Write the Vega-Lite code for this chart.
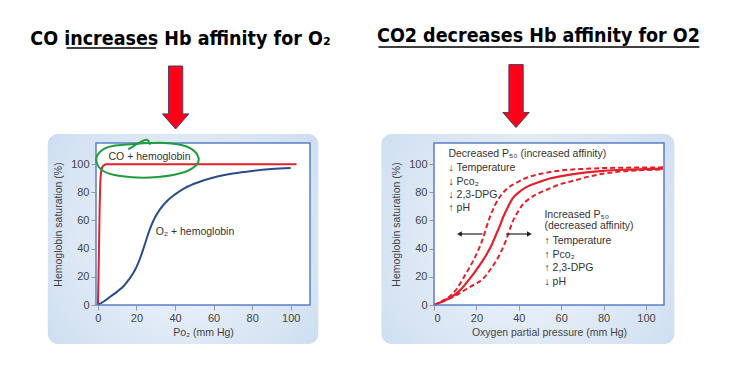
{
  "$schema": "https://vega.github.io/schema/vega-lite/v6.json",
  "autosize": {"type": "none"},
  "padding": {"left": 96, "top": 143, "right": 636, "bottom": 225},
  "background": "white",
  "bounds": "flush",
  "spacing": 124,
  "config": {
    "view": {"stroke": null},
    "axis": {"labelFont": "Liberation Sans", "labelFontSize": 11, "labelColor": "#444", "titleFont": "Liberation Sans", "titleFontSize": 10.5, "titleFontWeight": "normal", "titleColor": "#444", "tickColor": "#999", "tickSize": 5, "domain": false, "grid": false, "labelOverlap": false},
    "text": {"font": "Liberation Sans"}
  },
  "hconcat": [
    {
      "width": 214,
      "height": 162,
      "layer": [
        {
          "data": {"values": [{"x": -26, "x2": 114.3, "y": -27.7, "y2": 121.4}]},
          "mark": {"type": "rect", "cornerRadius": 10, "fill": {"gradient": "radial", "x1": 0.5, "y1": 0.5, "x2": 0.5, "y2": 0.5, "r1": 0, "r2": 0.75, "stops": [{"offset": 0, "color": "#f5f8fc"}, {"offset": 1, "color": "#c6d9ef"}]}},
          "encoding": {
            "x": {"field": "x", "type": "quantitative", "scale": {"domain": [-1, 110], "nice": false, "zero": false}, "axis": {"values": [0, 20, 40, 60, 80, 100], "tickCount": 12, "title": "Po₂ (mm Hg)", "titlePadding": 4, "zindex": 1, "grid": false, "domain": false, "labelOverlap": false}},
            "x2": {"field": "x2"},
            "y": {"field": "y", "type": "quantitative", "scale": {"domain": [0, 115], "nice": false, "zero": false}, "axis": {"values": [0, 20, 40, 60, 80, 100], "tickCount": 12, "title": "Hemoglobin saturation (%)", "titlePadding": 7, "zindex": 1, "grid": false, "domain": false, "labelOverlap": false}},
            "y2": {"field": "y2"}
          }
        },
        {
          "data": {"values": [{"x": -1, "x2": 110, "y": 0, "y2": 115}]},
          "mark": {"type": "rect", "fill": "white"},
          "encoding": {"x": {"field": "x", "type": "quantitative"}, "x2": {"field": "x2"}, "y": {"field": "y", "type": "quantitative"}, "y2": {"field": "y2"}}
        },
        {
          "data": {"values": [
            {"x": 0, "y": 0}, {"x": 0.3, "y": 20}, {"x": 0.6, "y": 45}, {"x": 0.9, "y": 70}, {"x": 1.2, "y": 86}, {"x": 1.6, "y": 94}, {"x": 2.2, "y": 97.7}, {"x": 3.2, "y": 99.3}, {"x": 4.5, "y": 99.9}, {"x": 6, "y": 100}, {"x": 103, "y": 100}
          ]},
          "mark": {"type": "line", "color": "#e5202b", "strokeWidth": 2, "interpolate": "monotone"},
          "encoding": {"x": {"field": "x", "type": "quantitative"}, "y": {"field": "y", "type": "quantitative"}}
        },
        {
          "data": {"values": [
            {"x": 0, "y": 0}, {"x": 3, "y": 2.5}, {"x": 6.5, "y": 6}, {"x": 10, "y": 9.5}, {"x": 13.4, "y": 13.5}, {"x": 16, "y": 18}, {"x": 18.5, "y": 23}, {"x": 21, "y": 30}, {"x": 23, "y": 37.5}, {"x": 25, "y": 46}, {"x": 27, "y": 54}, {"x": 29, "y": 60.5}, {"x": 32, "y": 67.5}, {"x": 36, "y": 74}, {"x": 40, "y": 78.5}, {"x": 45, "y": 83}, {"x": 52.8, "y": 87.5}, {"x": 60, "y": 90.5}, {"x": 70, "y": 93.3}, {"x": 80, "y": 95.2}, {"x": 90, "y": 96.5}, {"x": 100, "y": 97.3}
          ]},
          "mark": {"type": "line", "color": "#2b4c8c", "strokeWidth": 2, "interpolate": "monotone"},
          "encoding": {"x": {"field": "x", "type": "quantitative"}, "y": {"field": "y", "type": "quantitative"}}
        },
        {
          "data": {"values": [{"x": -1, "x2": 110, "y": 0, "y2": 115}]},
          "mark": {"type": "rect", "fill": null, "fillOpacity": 0, "stroke": "#5b7ec8", "strokeWidth": 1.5},
          "encoding": {"x": {"field": "x", "type": "quantitative"}, "x2": {"field": "x2"}, "y": {"field": "y", "type": "quantitative"}, "y2": {"field": "y2"}}
        },
        {
          "data": {"values": [{"x": 5.5, "y": 104.8, "t": "CO + hemoglobin"}, {"x": 30, "y": 51.6, "t": "O₂ + hemoglobin"}]},
          "mark": {"type": "text", "align": "left", "baseline": "middle", "fontSize": 10.5, "color": "#333"},
          "encoding": {"x": {"field": "x", "type": "quantitative"}, "y": {"field": "y", "type": "quantitative"}, "text": {"field": "t"}}
        },
        {
          "data": {"values": [
            {"i": 1, "x": -0.85, "y": 102.9}, {"i": 2, "x": 2.24, "y": 110}, {"i": 3, "x": 8.92, "y": 113.2}, {"i": 4, "x": 21.76, "y": 114.6}, {"i": 5, "x": 34.6, "y": 115}, {"i": 6, "x": 45.9, "y": 112.5}, {"i": 7, "x": 51.6, "y": 106.5}, {"i": 8, "x": 51.1, "y": 99.4}, {"i": 9, "x": 42.3, "y": 93.3}, {"i": 10, "x": 26.9, "y": 90.5}, {"i": 11, "x": 11.5, "y": 91.6}, {"i": 12, "x": 2.75, "y": 95.1}
          ]},
          "mark": {"type": "line", "color": "#1f9d3c", "strokeWidth": 2, "interpolate": "cardinal-closed"},
          "encoding": {"x": {"field": "x", "type": "quantitative"}, "y": {"field": "y", "type": "quantitative"}, "order": {"field": "i"}}
        },
        {
          "data": {"values": [{"i": 1, "x": 15.75, "y": 110.5}, {"i": 2, "x": 21.8, "y": 115.5}, {"i": 3, "x": 25.4, "y": 117.3}, {"i": 4, "x": 27.2, "y": 113.8}]},
          "mark": {"type": "line", "color": "#1f9d3c", "strokeWidth": 2, "interpolate": "cardinal"},
          "encoding": {"x": {"field": "x", "type": "quantitative"}, "y": {"field": "y", "type": "quantitative"}, "order": {"field": "i"}}
        },
        {
          "data": {"values": [{"x": 42.8, "y": 184.5, "t": "CO increases Hb affinity for O₂"}]},
          "mark": {"type": "text", "align": "center", "baseline": "alphabetic", "fontSize": 19.5, "fontWeight": "bold", "font": "DejaVu Sans Condensed, DejaVu Sans, sans-serif", "color": "black"},
          "encoding": {"x": {"field": "x", "type": "quantitative"}, "y": {"field": "y", "type": "quantitative"}, "text": {"field": "t"}}
        },
        {
          "data": {"values": [{"x": -16.3, "x2": 30.2, "y": 182.4}]},
          "mark": {"type": "rule", "color": "black", "strokeWidth": 1.5},
          "encoding": {"x": {"field": "x", "type": "quantitative"}, "x2": {"field": "x2"}, "y": {"field": "y", "type": "quantitative"}}
        },
        {
          "data": {"values": [{"x": 40.3, "y": 147.3}]},
          "mark": {"type": "point", "shape": "M-0.227,-1L0.227,-1L0.227,0.52L0.42,0.52L0,1L-0.42,0.52L-0.227,0.52Z", "size": 3969, "filled": true, "fill": "#ff0018", "fillOpacity": 1, "stroke": "#4b4060", "strokeWidth": 1, "opacity": 1},
          "encoding": {"x": {"field": "x", "type": "quantitative"}, "y": {"field": "y", "type": "quantitative"}}
        }
      ]
    },
    {
      "width": 230,
      "height": 162,
      "layer": [
        {
          "data": {"values": [{"x": -24.8, "x2": 113.4, "y": -27.7, "y2": 121.4}]},
          "mark": {"type": "rect", "cornerRadius": 10, "fill": {"gradient": "radial", "x1": 0.5, "y1": 0.5, "x2": 0.5, "y2": 0.5, "r1": 0, "r2": 0.75, "stops": [{"offset": 0, "color": "#f5f8fc"}, {"offset": 1, "color": "#c6d9ef"}]}},
          "encoding": {
            "x": {"field": "x", "type": "quantitative", "scale": {"domain": [0, 108.5], "nice": false, "zero": false}, "axis": {"values": [0, 20, 40, 60, 80, 100], "tickCount": 12, "title": "Oxygen partial pressure (mm Hg)", "titlePadding": 4, "zindex": 1, "grid": false, "domain": false, "labelOverlap": false}},
            "x2": {"field": "x2"},
            "y": {"field": "y", "type": "quantitative", "scale": {"domain": [0, 115], "nice": false, "zero": false}, "axis": {"values": [0, 20, 40, 60, 80, 100], "tickCount": 12, "title": "Hemoglobin saturation (%)", "titlePadding": 7, "zindex": 1, "grid": false, "domain": false, "labelOverlap": false}},
            "y2": {"field": "y2"}
          }
        },
        {
          "data": {"values": [{"x": 0, "x2": 108.5, "y": 0, "y2": 115}]},
          "mark": {"type": "rect", "fill": "white"},
          "encoding": {"x": {"field": "x", "type": "quantitative"}, "x2": {"field": "x2"}, "y": {"field": "y", "type": "quantitative"}, "y2": {"field": "y2"}}
        },
        {
          "data": {"values": [
            {"x": 0, "y": 0}, {"x": 4, "y": 2.5}, {"x": 8, "y": 5.5}, {"x": 12, "y": 10}, {"x": 16.5, "y": 18}, {"x": 20, "y": 25}, {"x": 24.4, "y": 35}, {"x": 27, "y": 42}, {"x": 29, "y": 49}, {"x": 31, "y": 56}, {"x": 32.5, "y": 62}, {"x": 35, "y": 70}, {"x": 37, "y": 75.5}, {"x": 40, "y": 80}, {"x": 43.3, "y": 83.5}, {"x": 50, "y": 87.5}, {"x": 55, "y": 90}, {"x": 60, "y": 91.5}, {"x": 70, "y": 93.8}, {"x": 80, "y": 95.2}, {"x": 90, "y": 96}, {"x": 100, "y": 96.5}, {"x": 108, "y": 96.8}
          ]},
          "mark": {"type": "line", "color": "#e5202b", "strokeWidth": 2.2, "interpolate": "monotone"},
          "encoding": {"x": {"field": "x", "type": "quantitative"}, "y": {"field": "y", "type": "quantitative"}}
        },
        {
          "data": {"values": [
            {"s": "a", "x": 0, "y": 0}, {"s": "a", "x": 4, "y": 3}, {"s": "a", "x": 8, "y": 7}, {"s": "a", "x": 11, "y": 12}, {"s": "a", "x": 13.4, "y": 18}, {"s": "a", "x": 16.5, "y": 26}, {"s": "a", "x": 19.7, "y": 35}, {"s": "a", "x": 22.8, "y": 46}, {"s": "a", "x": 26, "y": 61}, {"s": "a", "x": 28.5, "y": 70}, {"s": "a", "x": 30.7, "y": 76}, {"s": "a", "x": 34, "y": 82}, {"s": "a", "x": 38.6, "y": 86.5}, {"s": "a", "x": 44, "y": 90.5}, {"s": "a", "x": 50, "y": 93}, {"s": "a", "x": 60, "y": 95.5}, {"s": "a", "x": 70, "y": 96.6}, {"s": "a", "x": 80, "y": 97.2}, {"s": "a", "x": 90, "y": 97.5}, {"s": "a", "x": 108, "y": 97.7},
            {"s": "b", "x": 0, "y": 0}, {"s": "b", "x": 5, "y": 3}, {"s": "b", "x": 10, "y": 6.5}, {"s": "b", "x": 15, "y": 11}, {"s": "b", "x": 19, "y": 14.5}, {"s": "b", "x": 22.8, "y": 18.2}, {"s": "b", "x": 26.5, "y": 25}, {"s": "b", "x": 30.7, "y": 35}, {"s": "b", "x": 33.9, "y": 45.7}, {"s": "b", "x": 37, "y": 58.8}, {"s": "b", "x": 39.5, "y": 66}, {"s": "b", "x": 41.7, "y": 71}, {"s": "b", "x": 45, "y": 75.5}, {"s": "b", "x": 49.6, "y": 79.5}, {"s": "b", "x": 55, "y": 83}, {"s": "b", "x": 60, "y": 86}, {"s": "b", "x": 65.3, "y": 88}, {"s": "b", "x": 70, "y": 90}, {"s": "b", "x": 81, "y": 93.5}, {"s": "b", "x": 90, "y": 95}, {"s": "b", "x": 100, "y": 95.8}, {"s": "b", "x": 108, "y": 96.2}
          ]},
          "mark": {"type": "line", "color": "#e5202b", "strokeWidth": 2, "strokeDash": [5, 3], "interpolate": "monotone"},
          "encoding": {"x": {"field": "x", "type": "quantitative"}, "y": {"field": "y", "type": "quantitative"}, "detail": {"field": "s"}}
        },
        {
          "data": {"values": [{"x": 0, "x2": 108.5, "y": 0, "y2": 115}]},
          "mark": {"type": "rect", "fill": null, "fillOpacity": 0, "stroke": "#5b7ec8", "strokeWidth": 1.5},
          "encoding": {"x": {"field": "x", "type": "quantitative"}, "x2": {"field": "x2"}, "y": {"field": "y", "type": "quantitative"}, "y2": {"field": "y2"}}
        },
        {
          "data": {"values": [
            {"x": 6.8, "y": 107, "t": "Decreased P₅₀ (increased affinity)"},
            {"x": 6.8, "y": 97, "t": "↓ Temperature"},
            {"x": 6.8, "y": 87.5, "t": "↓ Pᴄᴏ₂"},
            {"x": 6.8, "y": 78.1, "t": "↓ 2,3-DPG"},
            {"x": 6.8, "y": 68.6, "t": "↑ pH"},
            {"x": 52.1, "y": 63.9, "t": "Increased P₅₀"},
            {"x": 52.1, "y": 56.3, "t": "(decreased affinity)"},
            {"x": 52.1, "y": 45.4, "t": "↑ Temperature"},
            {"x": 52.1, "y": 35.5, "t": "↑ Pᴄᴏ₂"},
            {"x": 52.1, "y": 26.5, "t": "↑ 2,3-DPG"},
            {"x": 52.1, "y": 16.5, "t": "↓ pH"}
          ]},
          "mark": {"type": "text", "align": "left", "baseline": "middle", "fontSize": 10.5, "color": "#333"},
          "encoding": {"x": {"field": "x", "type": "quantitative"}, "y": {"field": "y", "type": "quantitative"}, "text": {"field": "t"}}
        },
        {
          "data": {"values": [{"x": 12, "x2": 22.9, "y": 50.4}, {"x": 34, "x2": 45, "y": 50.4}]},
          "mark": {"type": "rule", "color": "#222", "strokeWidth": 1.2},
          "encoding": {"x": {"field": "x", "type": "quantitative"}, "x2": {"field": "x2"}, "y": {"field": "y", "type": "quantitative"}}
        },
        {
          "data": {"values": [{"x": 12, "y": 50.4, "sh": "triangle-left"}, {"x": 45, "y": 50.4, "sh": "triangle-right"}]},
          "mark": {"type": "point", "filled": true, "size": 30, "color": "#222", "opacity": 1},
          "encoding": {"x": {"field": "x", "type": "quantitative"}, "y": {"field": "y", "type": "quantitative"}, "shape": {"field": "sh", "type": "nominal", "scale": null}}
        },
        {
          "data": {"values": [{"x": 49.3, "y": 186.7, "t": "CO2 decreases Hb affinity for O2"}]},
          "mark": {"type": "text", "align": "center", "baseline": "alphabetic", "fontSize": 19.5, "fontWeight": "bold", "font": "DejaVu Sans Condensed, DejaVu Sans, sans-serif", "color": "black"},
          "encoding": {"x": {"field": "x", "type": "quantitative"}, "y": {"field": "y", "type": "quantitative"}, "text": {"field": "t"}}
        },
        {
          "data": {"values": [{"x": -26.2, "x2": 125.2, "y": 183.1}]},
          "mark": {"type": "rule", "color": "black", "strokeWidth": 1.5},
          "encoding": {"x": {"field": "x", "type": "quantitative"}, "x2": {"field": "x2"}, "y": {"field": "y", "type": "quantitative"}}
        },
        {
          "data": {"values": [{"x": 38.7, "y": 148.3}]},
          "mark": {"type": "point", "shape": "M-0.227,-1L0.227,-1L0.227,0.52L0.42,0.52L0,1L-0.42,0.52L-0.227,0.52Z", "size": 3969, "filled": true, "fill": "#ff0018", "fillOpacity": 1, "stroke": "#4b4060", "strokeWidth": 1, "opacity": 1},
          "encoding": {"x": {"field": "x", "type": "quantitative"}, "y": {"field": "y", "type": "quantitative"}}
        }
      ]
    }
  ]
}
